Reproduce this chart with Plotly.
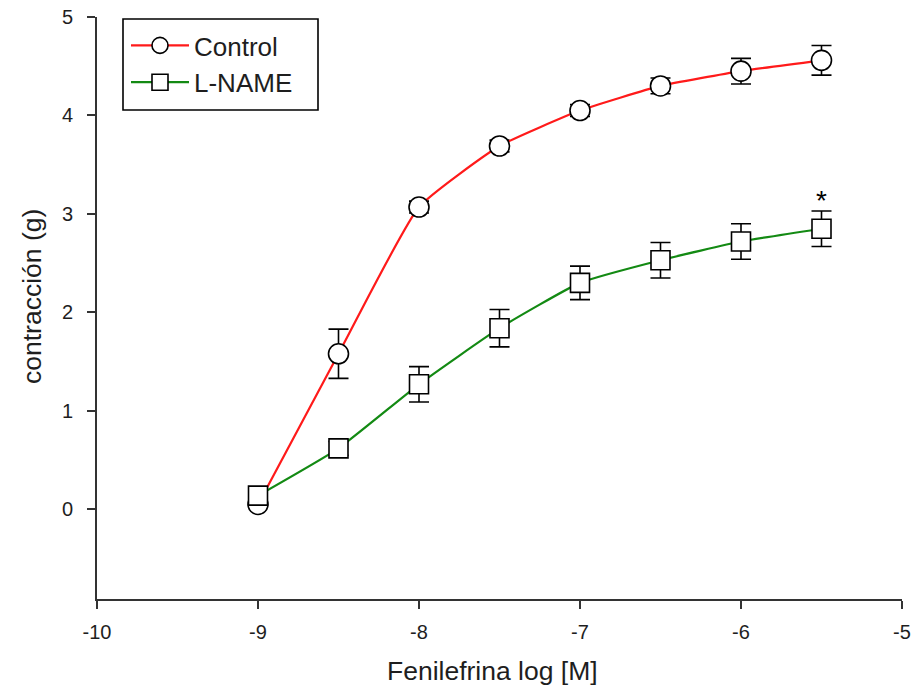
import plotly.graph_objects as go

# Data
log_conc = [-9.0, -8.5, -8.0, -7.5, -7.0, -6.5, -6.0, -5.5]
control_mean = [0.05, 1.58, 3.07, 3.69, 4.05, 4.30, 4.45, 4.56]
control_sem = [0.02, 0.25, 0.06, 0.06, 0.06, 0.08, 0.13, 0.15]
lname_mean = [0.14, 0.62, 1.27, 1.84, 2.30, 2.53, 2.72, 2.85]
lname_sem = [0.04, 0.07, 0.18, 0.19, 0.17, 0.18, 0.18, 0.18]
x_ticks = [-10, -9, -8, -7, -6, -5]
y_ticks = [0, 1, 2, 3, 4, 5]
star_x = -5.5
star_label = "*"

FONT = "Liberation Sans, Arial, sans-serif"
TXT = "#1e1e1e"
W, H = 915, 690
L, R, T, B = 97, 13, 17, 91
PW, PH = W - L - R, H - T - B

def px_x(p):
    return (p - L) / PW

def px_y(p):
    return (H - B - p) / PH

fig = go.Figure()
fig.add_trace(go.Scatter(
    x=log_conc, y=control_mean, name="Control", mode="lines+markers",
    line=dict(color="#ff1a1a", width=2.2, shape="spline", smoothing=0.45),
    marker=dict(symbol="circle", size=20, color="white",
                line=dict(color="black", width=1.6)),
    error_y=dict(type="data", array=control_sem, color="black",
                 thickness=1.6, width=10),
))
fig.add_trace(go.Scatter(
    x=log_conc, y=lname_mean, name="L-NAME", mode="lines+markers",
    line=dict(color="#138a13", width=2.2, shape="spline", smoothing=0.45),
    marker=dict(symbol="square", size=19, color="white",
                line=dict(color="black", width=1.6)),
    error_y=dict(type="data", array=lname_sem, color="black",
                 thickness=1.6, width=10),
))

star_idx = log_conc.index(star_x)
fig.add_annotation(
    x=star_x, y=lname_mean[star_idx] + lname_sem[star_idx],
    text=star_label, showarrow=False, yanchor="bottom", yshift=-7,
    font=dict(family=FONT, size=28, color="black"),
)

# axis titles
fig.add_annotation(
    xref="paper", yref="paper", x=px_x(492), y=px_y(671),
    xanchor="center", yanchor="middle", showarrow=False,
    text="Fenilefrina log [M]", font=dict(family=FONT, size=26.5, color=TXT),
)
fig.add_annotation(
    xref="paper", yref="paper", x=px_x(32), y=px_y(297),
    xanchor="center", yanchor="middle", showarrow=False, textangle=-90,
    text="contracción (g)", font=dict(family=FONT, size=26.5, color=TXT),
)

# legend frame
fig.add_shape(
    type="rect", xref="paper", yref="paper",
    x0=px_x(123), x1=px_x(318), y0=px_y(110), y1=px_y(19),
    line=dict(color="black", width=1.6), fillcolor="rgba(0,0,0,0)", layer="above",
)

fig.update_layout(
    width=W, height=H,
    margin=dict(l=L, r=R, t=T, b=B),
    paper_bgcolor="white", plot_bgcolor="white",
    font=dict(family=FONT, color=TXT),
    showlegend=True,
    legend=dict(
        x=px_x(126), y=px_y(22), xanchor="left", yanchor="top",
        borderwidth=0, bgcolor="rgba(0,0,0,0)",
        font=dict(family=FONT, size=26, color=TXT),
        itemwidth=58, tracegroupgap=0,
    ),
)
fig.update_xaxes(
    range=[-10, -5], tickvals=x_ticks, ticktext=[str(v) for v in x_ticks],
    showline=True, linecolor="#333333", linewidth=1.6,
    ticks="outside", ticklen=8, tickwidth=1.6, tickcolor="#333333",
    ticklabelstandoff=6,
    showgrid=False, zeroline=False, automargin=False,
    tickfont=dict(family=FONT, size=20, color=TXT),
)
fig.update_yaxes(
    range=[-0.91, 5], tickvals=y_ticks,
    showline=True, linecolor="#333333", linewidth=1.6,
    ticks="outside", ticklen=8, tickwidth=1.6, tickcolor="#333333",
    ticklabelstandoff=10,
    showgrid=False, zeroline=False, automargin=False,
    tickfont=dict(family=FONT, size=20, color=TXT),
)

fig.write_html(
    "out.html",
    config={"displayModeBar": False},
    post_script="document.body.style.margin='0';document.body.style.padding='0';",
)
